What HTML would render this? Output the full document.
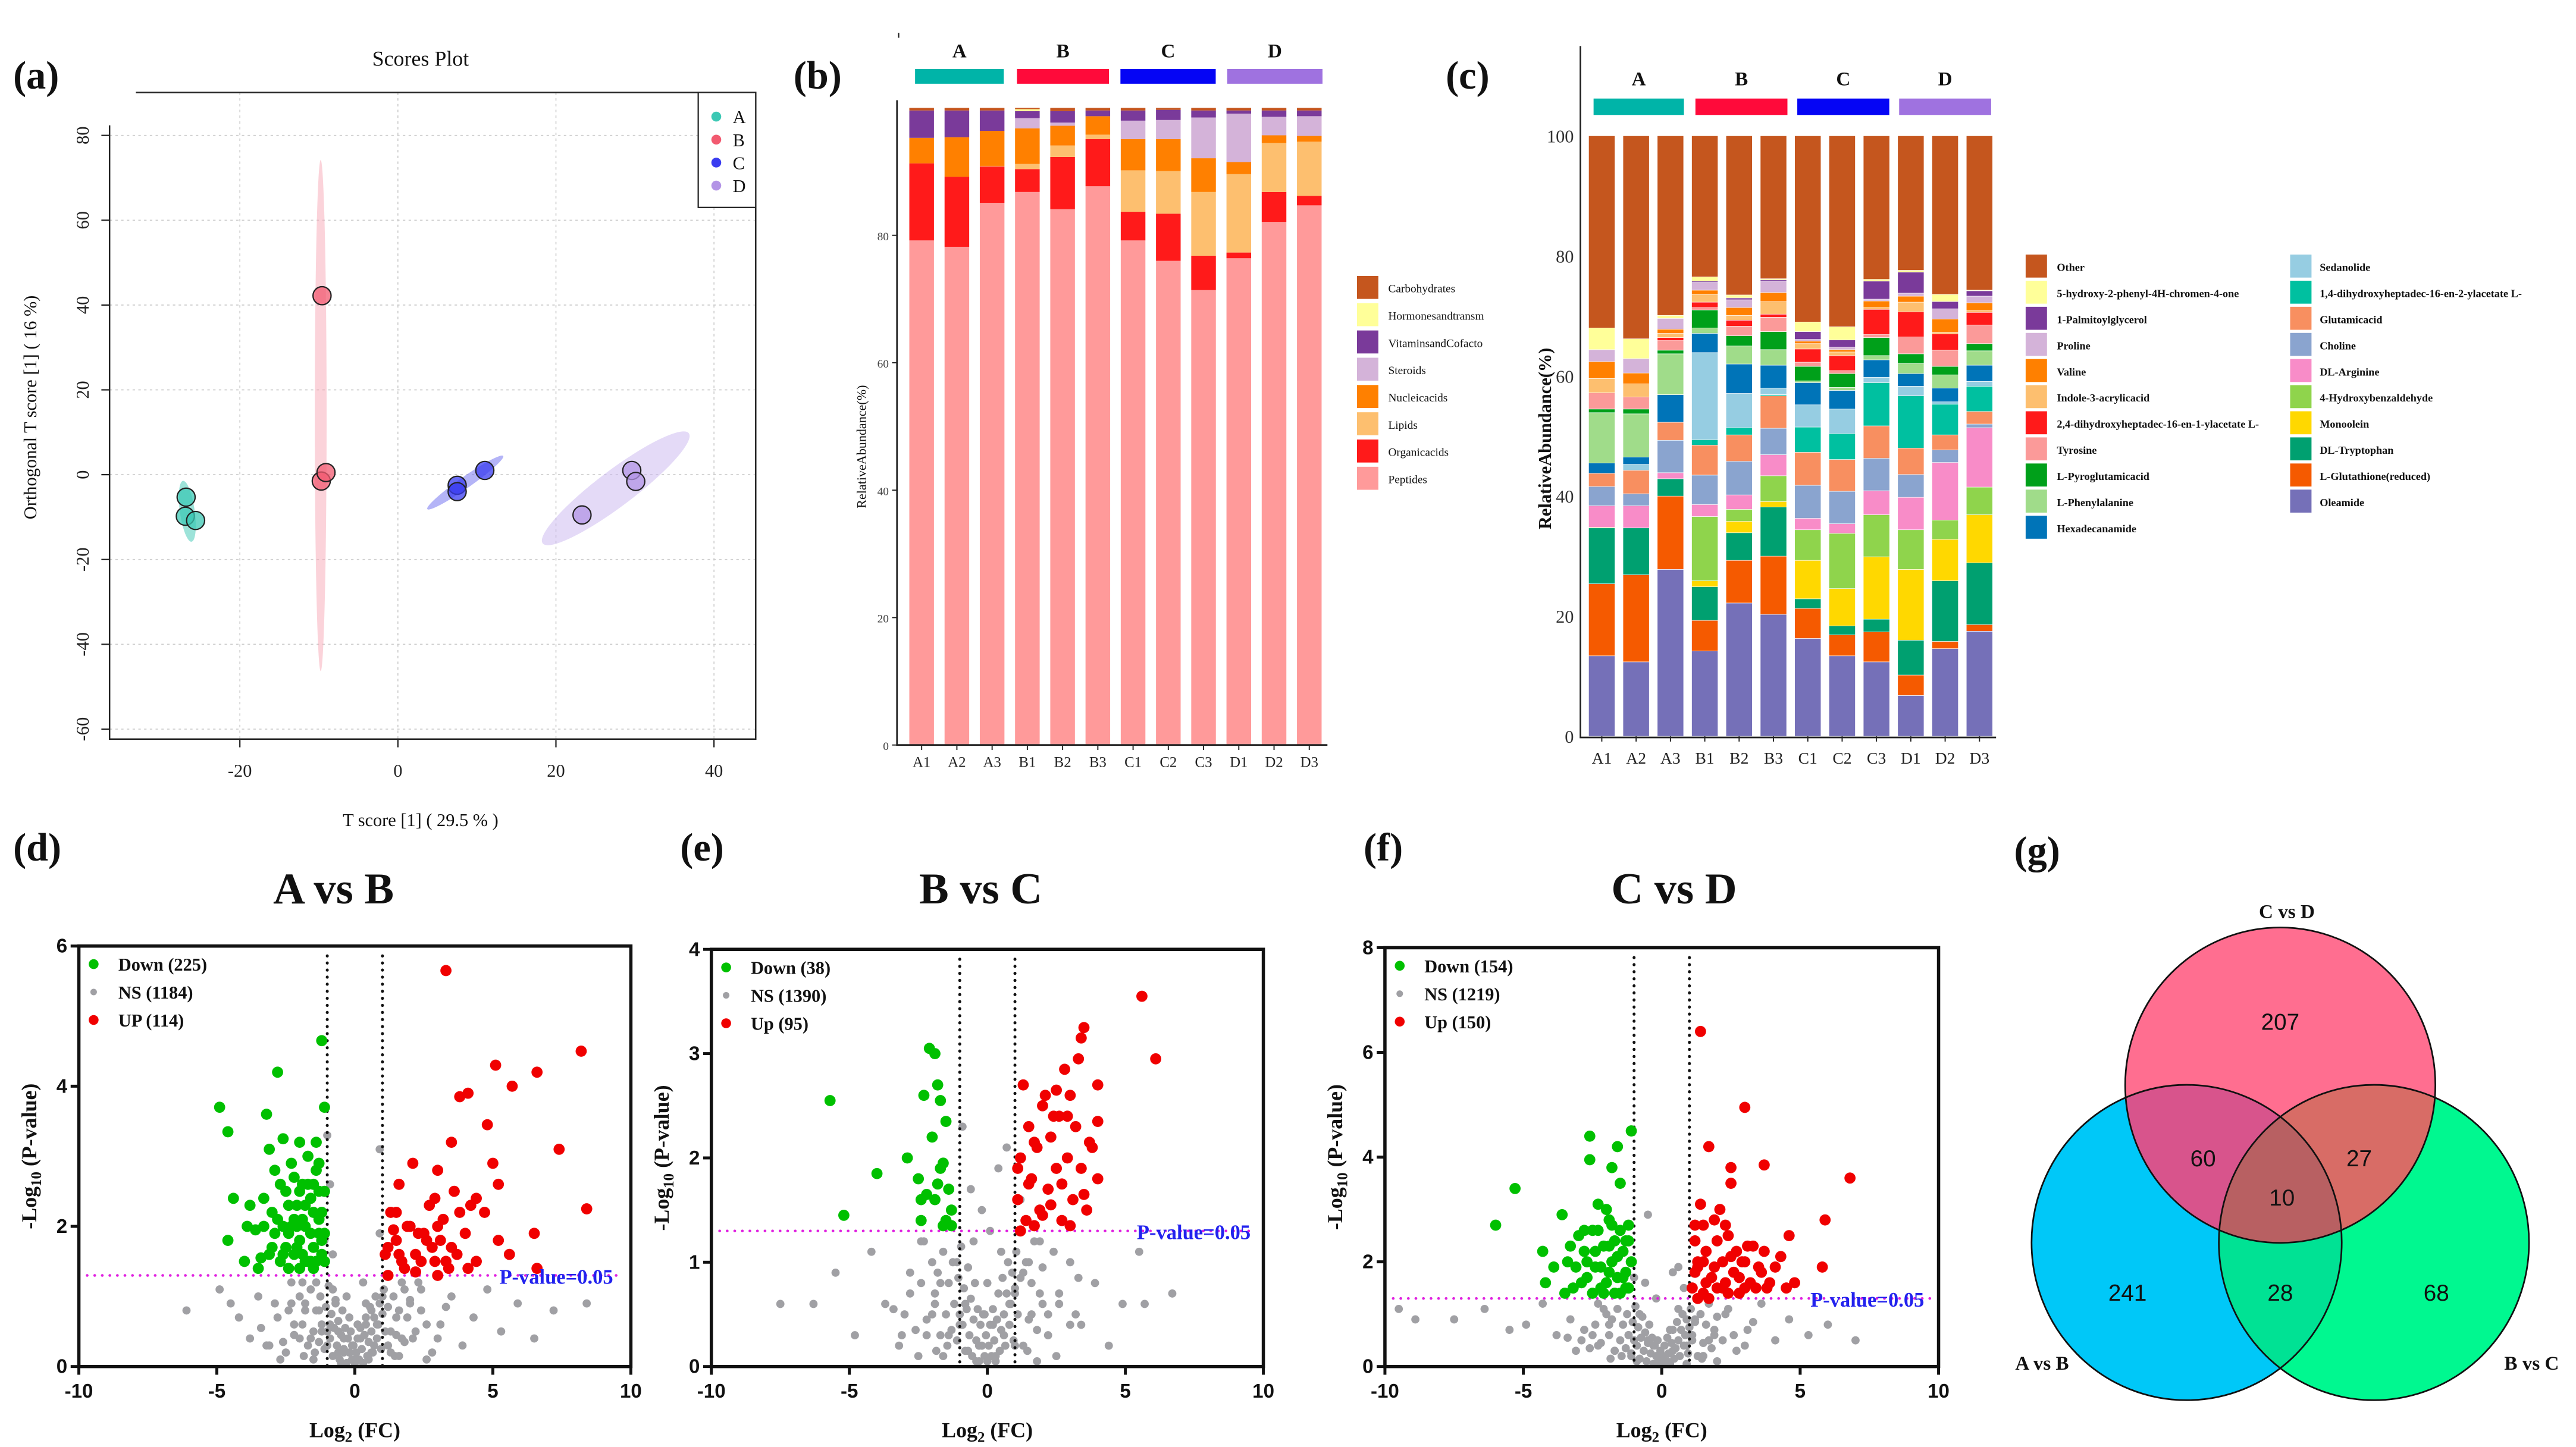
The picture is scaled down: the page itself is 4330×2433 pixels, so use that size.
<!DOCTYPE html>
<html><head><meta charset="utf-8"><style>
html,body{margin:0;padding:0;background:#fff;}
svg{display:block;}
text{font-family:"Liberation Serif",serif;}
.sans{font-family:"Liberation Sans",sans-serif;}
</style></head><body>
<svg id="fig" xmlns="http://www.w3.org/2000/svg" width="4330" height="2433" viewBox="0 0 1568 881" preserveAspectRatio="none">
<rect x="0" y="0" width="1568" height="881" fill="#fff"/>
<g font-weight="bold" font-size="24" fill="#111">
<text x="8" y="54">(a)</text>
<text x="483" y="54">(b)</text>
<text x="880" y="54">(c)</text>
<text x="8" y="524">(d)</text>
<text x="414" y="524">(e)</text>
<text x="830" y="524">(f)</text>
<text x="1226" y="526">(g)</text>
</g>
<g id="pa"></g>
<g id="pb"></g>
<g id="pc"></g>
<g id="pd"></g>
<g id="pe"></g>
<g id="pf"></g>
<g id="pg"></g>
</svg>
<script>
// ---------- Panel a data ----------
const scoreGroups = ["A","B","C","D"];
const scoreColors = ["#3cc8b4","#f25a70","#3a3cf0","#b394e6"];
const scoreX_A = [-26.8,-26.9,-25.6];
const scoreY_A = [-5.3,-9.8,-10.8];
const scoreX_B = [-9.6,-9.7,-9.1];
const scoreY_B = [42.2,-1.5,0.5];
const scoreX_C = [7.5,7.5,11];
const scoreY_C = [-2.5,-4,1];
const scoreX_D = [29.6,30.1,23.3];
const scoreY_D = [1,-1.6,-9.5];
const scoreXTicks = [-20,0,20,40];
const scoreYTicks = [80,60,40,20,0,-20,-40,-60];

// ---------- Panel b data (cumulative tops, %) ----------
const samples = ["A1","A2","A3","B1","B2","B3","C1","C2","C3","D1","D2","D3"];
const classNames = ["Peptides","Organicacids","Lipids","Nucleicacids","Steroids","VitaminsandCofacto","Hormonesandtransm","Carbohydrates"];
const classColors = ["#ff9a9a","#ff1a1a","#fdbf6f","#ff8000","#d4b3d9","#7a3a9a","#ffff99","#c5561e"];
const topPeptides = [79.2,78.2,85.1,86.8,84.1,87.7,79.2,76.0,71.4,76.4,82.1,84.7];
const topOrganic = [91.3,89.2,90.8,90.4,92.3,95.1,83.7,83.4,76.8,77.3,86.8,86.2];
const topLipids = [91.3,89.2,90.9,91.2,94.1,95.8,90.2,90.1,86.8,89.6,94.5,94.7];
const topNucleic = [95.3,95.4,96.4,96.8,97.2,98.7,95.1,95.1,92.1,91.5,95.7,95.6];
const topSteroids = [95.3,95.4,96.4,98.4,97.7,98.7,98.0,98.1,98.5,99.1,98.6,98.7];
const topVitamins = [99.6,99.6,99.6,99.5,99.5,99.6,99.6,99.7,99.6,99.6,99.6,99.6];
const topHormones = [99.6,99.6,99.6,99.8,99.5,99.6,99.6,99.7,99.6,99.6,99.6,99.6];
const topCarbs = [100,100,100,100,100,100,100,100,100,100,100,100];
const bYTicks = [0,20,40,60,80];

// ---------- Panel c data (cumulative tops, %) ----------
const compNames = ["Oleamide","L-Glutathione(reduced)","DL-Tryptophan","Monoolein","4-Hydroxybenzaldehyde","DL-Arginine","Choline","Glutamicacid","1,4-dihydroxyheptadec-16-en-2-ylacetate L-","Sedanolide","Hexadecanamide","L-Phenylalanine","L-Pyroglutamicacid","Tyrosine","2,4-dihydroxyheptadec-16-en-1-ylacetate L-","Indole-3-acrylicacid","Valine","Proline","1-Palmitoylglycerol","5-hydroxy-2-phenyl-4H-chromen-4-one","Other"];
const compColors = ["#7570b8","#f55a00","#00a070","#ffd800","#8fd44c","#f88cc8","#8aa4cf","#f88f60","#00c0a0","#96cde2","#0074b8","#a0dc8a","#00a01a","#fb9a99","#ff1a1a","#fdbf6f","#ff8000","#d4b3d9","#7a3a9a","#ffff99","#c5561e"];
const cOleamide = [13.4,12.4,27.8,14.2,22.2,20.3,16.3,13.4,12.4,6.8,14.6,17.5];
const cGluta = [25.4,26.9,40.0,19.3,29.3,30.0,21.3,16.9,17.4,10.2,15.8,18.6];
const cTryp = [34.7,34.7,42.9,24.9,33.9,38.2,22.9,18.4,19.5,16.0,25.9,28.9];
const cMono = [34.8,34.7,42.9,25.9,35.8,39.1,29.3,24.6,29.9,27.8,32.8,36.9];
const cHydroxy = [34.8,34.7,42.9,36.6,37.8,43.4,34.4,33.8,36.9,34.4,36.0,41.5];
const cArg = [38.4,38.4,43.9,38.6,40.2,46.9,36.3,35.4,40.9,39.8,45.6,51.4];
const cCholine = [41.6,40.4,49.3,43.5,45.8,51.3,41.8,40.8,46.3,43.6,47.7,52.0];
const cGlutamic = [43.8,44.3,52.3,48.5,50.2,56.7,47.3,46.1,51.7,48.0,50.2,54.1];
const cDihyd14 = [43.8,44.3,52.3,49.4,51.4,56.9,51.5,50.4,58.9,56.7,55.3,58.3];
const cSedan = [43.8,45.3,52.3,63.9,57.1,58.0,55.2,54.5,59.8,58.3,55.7,59.1];
const cHexa = [45.5,46.5,56.9,67.1,62.0,61.8,58.9,57.6,62.7,60.4,58.0,61.8];
const cPhenyl = [53.9,53.7,63.7,68.0,65.0,64.4,59.2,58.1,63.4,62.1,60.2,64.2];
const cPyro = [54.5,54.5,64.3,71.0,66.7,67.4,61.6,60.4,66.4,63.7,61.6,65.4];
const cTyr = [57.2,56.5,65.9,71.4,68.3,69.8,62.3,60.9,66.9,66.5,64.3,68.5];
const cDihyd24 = [57.2,56.5,66.4,72.3,69.3,70.3,64.5,63.4,71.1,70.7,67.0,70.6];
const cIndole = [59.6,58.7,67.1,73.6,70.1,72.4,65.4,64.0,71.4,72.3,67.3,70.9];
const cValine = [62.4,60.5,67.8,74.3,71.4,73.9,65.8,64.4,72.5,73.3,69.5,72.2];
const cProline = [64.4,62.9,69.6,75.6,72.7,75.8,66.1,64.8,72.8,73.8,71.2,73.3];
const cPalm = [64.4,62.9,69.6,75.8,73.0,76.0,67.4,66.0,75.8,77.3,72.4,74.2];
const cChromen = [68.0,66.2,70.1,76.5,73.5,76.2,69.0,68.2,76.1,77.6,73.6,74.3];
const cOther = [100,100,100,100,100,100,100,100,100,100,100,100];
const cYTicks = [0,20,40,60,80,100];
const legendOrderCol1 = [20,19,18,17,16,15,14,13,12,11,10];
const legendOrderCol2 = [9,8,7,6,5,4,3,2,1,0];

// ---------- Volcano data [log2FC, -log10 p] ----------
const dDown = [[-4.9,3.7],[-4.6,3.35],[-4.4,2.4],[-4.6,1.8],[-4.0,1.5],[-3.9,2.0],[-3.6,1.95],[-3.5,1.4],[-3.3,2.4],[-3.2,3.6],[-3.1,3.1],[-3,1.7],[-2.9,2.8],[-2.8,2.1],[-2.7,1.5],[-2.6,3.25],[-2.5,2.5],[-2.4,1.9],[-2.3,2.9],[-2.2,1.6],[-2.1,2.3],[-2.0,3.2],[-2.0,1.8],[-1.9,2.6],[-1.8,2.0],[-1.7,1.5],[-1.7,3.0],[-1.6,2.4],[-1.5,1.7],[-1.4,2.8],[-1.3,2.1],[-1.2,1.6],[-1.1,3.7],[-1.1,2.5],[-1.2,4.65],[-2.8,4.2],[-3.4,1.55],[-2.4,1.4],[-1.5,1.4],[-3.3,2.0],[-2.6,2.0],[-1.9,1.6],[-2.2,2.7],[-1.4,3.2],[-1.3,1.9],[-1.8,2.3],[-2.5,1.7],[-1.6,1.9],[-1.2,2.2],[-2.0,1.4],[-3.8,2.3],[-3.0,2.2],[-2.7,2.6],[-2.3,2.0],[-2.1,1.7],[-1.9,2.1],[-1.7,2.6],[-1.5,2.2],[-1.3,2.5],[-1.2,1.8],[-2.4,2.3],[-2.9,1.9],[-3.1,1.6],[-2.0,2.5],[-1.6,1.5],[-1.4,1.5],[-1.1,1.9],[-2.6,1.6],[-1.8,1.5],[-2.2,2.1],[-1.3,2.9],[-1.5,2.6],[-2.1,2.0],[-1.1,1.5]];
const dUp = [[1.1,1.6],[1.3,2.2],[1.5,1.8],[1.6,2.6],[1.8,1.4],[2.0,2.0],[2.2,1.6],[2.1,2.9],[2.5,1.9],[2.7,2.3],[2.9,1.5],[3.0,2.8],[3.2,2.1],[3.3,5.65],[3.5,1.7],[3.6,2.5],[3.8,3.85],[4.0,1.9],[4.2,2.3],[4.4,1.5],[4.8,3.45],[4.7,2.2],[5.1,4.3],[5.2,1.8],[5.2,2.6],[5.7,4.0],[5.6,1.6],[6.6,4.2],[6.5,1.9],[7.4,3.1],[6.6,1.4],[8.2,4.5],[8.4,2.25],[3.5,3.2],[4.1,3.9],[5.0,2.9],[1.2,1.3],[2.2,1.35],[3.4,1.4],[2.8,1.7],[1.4,1.95],[3.0,1.3],[1.5,2.2],[1.7,1.5],[2.4,1.5],[2.6,1.8],[3.1,1.8],[3.3,1.5],[3.7,1.6],[4.1,1.4],[2.9,2.4],[1.9,2.0],[3.8,2.2],[4.4,2.4],[1.2,1.7],[2.3,1.9],[3.0,2.0],[1.6,1.6]];
const dNS = [[-6.1,0.8],[-4.9,1.1],[-4.5,0.9],[-4.2,0.7],[-3.8,0.4],[-3.5,1.0],[-3.2,0.3],[-2.9,0.9],[-2.5,0.2],[-2.2,0.6],[-1.9,1.2],[-1.6,0.4],[-1.3,0.8],[-1.0,0.3],[-0.8,1.1],[-0.6,0.5],[-0.4,0.2],[-0.2,0.7],[0,0.1],[0.2,0.4],[0.4,0.9],[0.6,0.2],[0.8,0.6],[1.0,1.0],[1.2,0.3],[1.5,0.7],[1.8,1.1],[2.1,0.4],[2.4,0.8],[2.8,0.2],[3.1,0.6],[3.5,1.0],[3.9,0.3],[4.3,0.7],[4.8,1.1],[5.3,0.5],[5.9,0.9],[6.5,0.4],[7.2,0.8],[8.4,0.9],[-0.5,0.05],[0.5,0.1],[-0.1,0.3],[0.1,0.6],[-0.3,1.0],[0.3,1.2],[-1.1,1.8],[-0.8,1.6],[0.9,1.9],[1.1,1.6],[-2.7,0.1],[2.6,0.1],[-1.5,0.1],[1.6,0.15],[-0.9,0.6],[0.7,0.3],[-2.0,0.4],[2.0,0.9],[-1.2,0.5],[-0.7,0.9],[1.3,0.5],[-1.8,0.8],[1.7,0.4],[-1.4,1.2],[-2.3,0.9],[2.3,1.2],[-0.9,2.6],[-1.0,3.3],[0.9,3.1],[-0.4,0.4],[0.4,0.6],[-0.6,0.2],[0.6,0.8]];
const dCore = [[-2.0,1.0],[-1.9,0.6],[-1.8,0.9],[-1.7,0.3],[-1.6,1.1],[-1.5,0.5],[-1.4,0.8],[-1.3,0.35],[-1.25,1.0],[-1.2,0.6],[-1.1,0.25],[-1.05,0.85],[-1.0,0.5],[-0.95,1.15],[-0.9,0.4],[-0.85,0.75],[-0.8,0.15],[-0.75,0.55],[-0.7,0.95],[-0.65,0.3],[-0.6,0.65],[-0.55,0.1],[-0.5,0.45],[-0.45,0.8],[-0.4,0.25],[-0.35,0.55],[-0.3,0.05],[-0.25,0.4],[-0.2,0.2],[-0.15,0.5],[-0.1,0.1],[-0.05,0.3],[0,0.05],[0.05,0.2],[0.1,0.4],[0.15,0.1],[0.2,0.55],[0.25,0.25],[0.3,0.05],[0.35,0.45],[0.4,0.7],[0.45,0.15],[0.5,0.35],[0.55,0.85],[0.6,0.5],[0.65,0.2],[0.7,0.7],[0.75,1.0],[0.8,0.4],[0.85,0.6],[0.9,0.9],[0.95,0.25],[1.0,0.75],[1.05,1.1],[1.1,0.5],[1.2,0.85],[1.3,0.2],[1.4,1.0],[1.5,0.45],[1.6,0.8],[1.7,1.2],[1.8,0.35],[1.9,0.7],[2.0,0.95],[2.2,0.5],[2.4,1.1],[-2.2,0.45],[-2.4,0.8],[-2.6,0.35],[-2.8,0.7],[-3.1,0.3],[-3.4,0.55],[-2.3,1.2],[-1.85,0.15],[-1.45,0.2],[1.45,0.15],[2.6,0.6],[3.0,0.4],[3.3,0.85]];
const eDown = [[-5.7,2.55],[-5.2,1.45],[-4.0,1.85],[-2.9,2.0],[-2.5,1.8],[-2.3,2.6],[-2.1,3.05],[-2.2,1.65],[-2.0,2.2],[-1.9,3.0],[-1.9,1.6],[-1.8,2.7],[-1.7,1.9],[-1.7,2.55],[-1.5,1.4],[-1.5,2.35],[-1.4,1.7],[-1.3,1.5],[-1.6,1.95],[-2.4,1.4],[-1.8,1.75],[-1.6,1.35],[-2.4,1.6],[-1.3,1.35]];
const eUp = [[1.1,1.6],[1.2,2.0],[1.3,2.7],[1.4,1.4],[1.5,2.3],[1.6,1.8],[1.7,2.15],[1.8,2.1],[1.9,1.5],[2.0,2.5],[2.1,2.6],[2.2,1.7],[2.3,2.2],[2.4,2.4],[2.5,1.9],[2.6,2.4],[2.7,1.4],[2.8,2.85],[2.9,2.0],[3.0,2.6],[3.1,1.6],[3.2,2.3],[3.3,2.95],[3.4,1.9],[3.5,3.25],[3.6,1.5],[3.7,2.15],[3.8,2.1],[4.0,2.7],[3.5,1.65],[4.0,2.35],[5.6,3.55],[6.1,2.95],[3.4,3.15],[2.5,2.65],[1.2,1.3],[3.0,1.35],[4.0,1.8],[2.0,1.45],[1.5,1.75],[1.1,1.9],[2.3,1.55],[2.7,1.75],[1.7,1.35],[2.9,2.4]];
const eNS = [[-7.5,0.6],[-6.3,0.6],[-5.5,0.9],[-4.8,0.3],[-4.2,1.1],[-3.7,0.6],[-3.2,0.2],[-2.8,0.9],[-2.4,1.2],[-2.0,0.5],[-1.7,0.8],[-1.4,0.3],[-1.1,1.0],[-0.8,0.6],[-0.5,1.2],[-0.3,0.2],[0,0.8],[0.2,0.4],[0.5,1.1],[0.8,0.6],[1.0,0.2],[1.3,0.9],[1.6,0.5],[1.9,1.2],[2.2,0.3],[2.6,0.7],[3.0,1.0],[3.4,0.4],[3.9,0.8],[4.4,0.2],[4.9,0.6],[5.5,1.1],[5.7,0.6],[6.7,0.7],[-0.6,1.7],[-0.2,1.5],[0.4,1.9],[-0.9,2.3],[0.7,2.1],[-0.4,0.05],[0.3,0.1],[-1.3,1.5],[1.2,1.6],[-2.5,0.1],[2.5,0.1],[-1.6,0.1],[1.8,0.05],[0.1,1.3],[-0.1,0.5],[-1.0,0.4],[1.0,0.7],[-0.7,0.15],[0.6,0.3],[-1.9,0.7],[1.5,1.0],[-2.2,0.3],[2.0,0.6],[-3.0,0.5],[3.2,0.5]];
const eCore = [[-2.0,1.0],[-1.9,0.6],[-1.8,0.9],[-1.7,0.3],[-1.6,1.1],[-1.5,0.5],[-1.4,0.8],[-1.3,0.35],[-1.25,1.0],[-1.2,0.6],[-1.1,0.25],[-1.05,0.85],[-1.0,0.5],[-0.95,1.15],[-0.9,0.4],[-0.85,0.75],[-0.8,0.15],[-0.75,0.55],[-0.7,0.95],[-0.65,0.3],[-0.6,0.65],[-0.55,0.1],[-0.5,0.45],[-0.45,0.8],[-0.4,0.25],[-0.35,0.55],[-0.3,0.05],[-0.25,0.4],[-0.2,0.2],[-0.15,0.5],[-0.1,0.1],[-0.05,0.3],[0,0.05],[0.05,0.2],[0.1,0.4],[0.15,0.1],[0.2,0.55],[0.25,0.25],[0.3,0.05],[0.35,0.45],[0.4,0.7],[0.45,0.15],[0.5,0.35],[0.55,0.85],[0.6,0.5],[0.65,0.2],[0.7,0.7],[0.75,1.0],[0.8,0.4],[0.85,0.6],[0.9,0.9],[0.95,0.25],[1.0,0.75],[1.05,1.1],[1.1,0.5],[1.2,0.85],[1.3,0.2],[1.4,1.0],[1.5,0.45],[1.6,0.8],[1.7,1.2],[1.8,0.35],[1.9,0.7],[2.0,0.95],[2.2,0.5],[2.4,1.1],[-2.2,0.45],[-2.4,0.8],[-2.6,0.35],[-2.8,0.7],[-3.1,0.3],[-3.4,0.55],[-2.3,1.2],[-1.85,0.15],[-1.45,0.2],[1.45,0.15],[2.6,0.6],[3.0,0.4],[3.3,0.85]];
const fDown = [[-6.0,2.7],[-5.3,3.4],[-4.3,2.2],[-4.2,1.6],[-3.9,1.9],[-3.6,2.9],[-3.4,2.0],[-3.2,1.5],[-3.0,2.5],[-2.8,2.2],[-2.7,1.7],[-2.6,4.4],[-2.5,2.6],[-2.4,1.9],[-2.3,3.1],[-2.2,1.5],[-2.1,2.3],[-2.0,3.0],[-1.9,1.8],[-1.8,2.7],[-1.7,1.4],[-1.6,2.1],[-1.5,3.5],[-1.4,1.7],[-1.3,2.4],[-1.2,1.5],[-1.1,2.0],[-2.6,3.95],[-3.5,1.4],[-1.6,4.2],[-1.1,4.5],[-1.8,3.8],[-2.2,1.9],[-1.5,2.6],[-2.9,1.6],[-1.3,1.8],[-2.5,1.4],[-1.9,2.3],[-3.1,1.9],[-1.2,2.7],[-2.4,2.2],[-2.0,1.6],[-1.8,2.0],[-1.6,1.7],[-1.4,2.2],[-1.3,1.5],[-2.7,2.0],[-2.3,2.6],[-1.9,2.8],[-1.5,1.4],[-2.1,1.4],[-1.2,2.4],[-3.3,2.3],[-2.8,2.6],[-1.7,2.4]];
const fUp = [[1.1,1.5],[1.2,2.4],[1.3,1.9],[1.4,3.1],[1.5,1.4],[1.6,2.2],[1.4,6.4],[1.8,1.7],[1.9,2.8],[2.0,1.5],[2.1,3.0],[2.2,2.0],[2.3,1.6],[2.4,2.5],[2.5,3.5],[2.6,1.8],[2.7,2.2],[2.8,1.4],[2.9,2.0],[3.0,2.0],[3.2,1.6],[3.3,2.3],[3.5,1.9],[3.7,2.2],[3.8,1.5],[4.1,1.9],[4.3,2.1],[4.6,2.5],[4.8,1.6],[4.5,1.5],[6.8,3.6],[5.8,1.9],[5.9,2.8],[2.5,3.8],[1.7,4.2],[3.0,4.95],[3.7,3.85],[1.3,1.3],[1.7,1.3],[2.3,2.7],[1.5,2.7],[1.2,1.8],[1.3,2.0],[1.6,1.6],[1.9,1.9],[2.2,1.5],[2.5,2.1],[2.8,1.7],[3.1,2.3],[3.4,1.5],[3.6,1.8],[1.2,2.7],[2.0,2.4],[2.4,1.4],[3.0,1.5],[1.5,2.0],[3.9,1.6]];
const fNS = [[-9.5,1.1],[-8.9,0.9],[-7.5,0.9],[-6.4,1.1],[-5.5,0.7],[-4.9,0.8],[-4.3,1.2],[-3.8,0.6],[-3.3,0.9],[-2.9,0.5],[-2.5,0.6],[-2.1,1.1],[-1.7,0.3],[-1.4,0.8],[-1.1,0.2],[-0.8,1.0],[-0.5,0.5],[-0.2,1.3],[0,0.2],[0.3,0.7],[0.6,1.1],[0.9,0.4],[1.2,0.9],[1.5,0.2],[1.9,0.6],[2.3,1.0],[2.7,0.3],[3.1,0.7],[3.6,1.2],[4.1,0.5],[4.6,0.9],[5.3,0.6],[6.0,0.8],[7.0,0.5],[-0.6,1.6],[0.4,1.8],[-0.3,0.05],[0.2,0.1],[-1.9,0.8],[2.0,0.1],[0.8,1.5],[-1.0,1.7],[-0.5,2.9],[0.6,1.9],[-1.2,0.6],[1.1,0.6],[-0.3,0.4],[0.4,0.3],[-2.3,0.4],[1.7,0.5],[-0.9,0.1],[0.9,0.05]];
const fCore = [[-2.0,1.0],[-1.9,0.6],[-1.8,0.9],[-1.7,0.3],[-1.6,1.1],[-1.5,0.5],[-1.4,0.8],[-1.3,0.35],[-1.25,1.0],[-1.2,0.6],[-1.1,0.25],[-1.05,0.85],[-1.0,0.5],[-0.95,1.15],[-0.9,0.4],[-0.85,0.75],[-0.8,0.15],[-0.75,0.55],[-0.7,0.95],[-0.65,0.3],[-0.6,0.65],[-0.55,0.1],[-0.5,0.45],[-0.45,0.8],[-0.4,0.25],[-0.35,0.55],[-0.3,0.05],[-0.25,0.4],[-0.2,0.2],[-0.15,0.5],[-0.1,0.1],[-0.05,0.3],[0,0.05],[0.05,0.2],[0.1,0.4],[0.15,0.1],[0.2,0.55],[0.25,0.25],[0.3,0.05],[0.35,0.45],[0.4,0.7],[0.45,0.15],[0.5,0.35],[0.55,0.85],[0.6,0.5],[0.65,0.2],[0.7,0.7],[0.75,1.0],[0.8,0.4],[0.85,0.6],[0.9,0.9],[0.95,0.25],[1.0,0.75],[1.05,1.1],[1.1,0.5],[1.2,0.85],[1.3,0.2],[1.4,1.0],[1.5,0.45],[1.6,0.8],[1.7,1.2],[1.8,0.35],[1.9,0.7],[2.0,0.95],[2.2,0.5],[2.4,1.1],[-2.2,0.45],[-2.4,0.8],[-2.6,0.35],[-2.8,0.7],[-3.1,0.3],[-3.4,0.55],[-2.3,1.2],[-1.85,0.15],[-1.45,0.2],[1.45,0.15],[2.6,0.6],[3.0,0.4],[3.3,0.85]];
const volcanoLegendD = ["Down (225)","NS (1184)","UP (114)"];
const volcanoLegendE = ["Down (38)","NS (1390)","Up (95)"];
const volcanoLegendF = ["Down (154)","NS (1219)","Up (150)"];
const xTicksVolcano = [-10,-5,0,5,10];

// ---------- Venn data ----------
const vennSetNames = ["A vs B","B vs C","C vs D"];
const vennOnlyAB = 241, vennOnlyBC = 68, vennOnlyCD = 207;
const vennABCD = 60, vennBCCD = 27, vennABBC = 28, vennAll = 10;

const NS = "http://www.w3.org/2000/svg";
function mk(parent, tag, attrs, txt){
  const e = document.createElementNS(NS, tag);
  for (const k in attrs) e.setAttribute(k, attrs[k]);
  if (txt !== undefined) e.textContent = txt;
  parent.appendChild(e);
  return e;
}
let el;

// ================= Panel a =================
(function(){
  const g = document.getElementById('pa');
  const xS = v => 242.2 + v*4.81;
  const yS = v => 289 - v*2.582;
  const L=66.7, R=460, T=56.3, B=450;
  el = mk(g,'text',{x:256,y:40,'font-size':13,'text-anchor':'middle',fill:'#111'},'Scores Plot');
  
  
  scoreXTicks.forEach(t=>{
    el = mk(g,'line',{x1:xS(t),x2:xS(t),y1:T,y2:B,stroke:'#ccc','stroke-width':0.6,'stroke-dasharray':'1.5,2'});
    
    
    el = mk(g,'line',{x1:xS(t),x2:xS(t),y1:B,y2:B+5,stroke:'#222','stroke-width':0.8});
    
    
    el = mk(g,'text',{x:xS(t),y:B+23,'font-size':11,'text-anchor':'middle',fill:'#222'},String(t));
    
    
  });
  scoreYTicks.forEach(t=>{
    el = mk(g,'line',{x1:L,x2:R,y1:yS(t),y2:yS(t),stroke:'#ccc','stroke-width':0.6,'stroke-dasharray':'1.5,2'});
    
    
    el = mk(g,'line',{x1:L-5,x2:L,y1:yS(t),y2:yS(t),stroke:'#222','stroke-width':0.8});
    
    
    el = mk(g,'text',{x:0,y:0,'font-size':11,'text-anchor':'middle',fill:'#222',transform:`translate(54,${yS(t)}) rotate(-90)`},String(t));
    
    
  });
  el = mk(g,'path',{d:`M${L},${T+20} L${L},${B} L${R},${B} L${R},${T} L${L+16},${T}`,fill:'none',stroke:'#222','stroke-width':0.9});
  
  
  const ells = [[114,311.3,4.5,18.7,-8,'#3cc8b4'],[195.2,253,3.6,155.6,0,'#f7a7b5'],[283.2,293.8,28.2,3.5,-35,'#6a6af0'],[374.8,297.3,55.7,11,-37,'#c9b6f0']];
  const ellNames=['ellipse-a','ellipse-b','ellipse-c','ellipse-d'];
  ells.forEach((e,i)=>{
    el = mk(g,'ellipse',{cx:e[0],cy:e[1],rx:e[2],ry:e[3],fill:e[5],'fill-opacity':0.5,transform:`rotate(${e[4]} ${e[0]} ${e[1]})`});
    
    
  });
  const xs=[scoreX_A,scoreX_B,scoreX_C,scoreX_D], ys=[scoreY_A,scoreY_B,scoreY_C,scoreY_D];
  xs.forEach((arr,gi)=>{
    arr.forEach((v,j)=>{
      el = mk(g,'circle',{cx:xS(v),cy:yS(ys[gi][j]),r:5.5,fill:scoreColors[gi],'fill-opacity':0.75,stroke:'#222','stroke-width':0.8});
      
      
    });
  });
  el = mk(g,'rect',{x:425,y:56.3,width:35,height:70,fill:'#fff',stroke:'#222','stroke-width':0.8});
  
  
  scoreGroups.forEach((n,i)=>{
    const y=71+i*14;
    el = mk(g,'circle',{cx:436,cy:y,r:3,fill:scoreColors[i]});
    
    
    el = mk(g,'text',{x:446,y:y+4,'font-size':11,fill:'#111'},n);
    
    
  });
  el = mk(g,'text',{x:256,y:503,'font-size':11,'text-anchor':'middle',fill:'#111'},'T score [1] ( 29.5 % )');
  
  
  el = mk(g,'text',{x:0,y:0,'font-size':11,'text-anchor':'middle',fill:'#111',transform:'translate(22,248) rotate(-90)'},'Orthogonal T score [1] ( 16 %)');
  
  
})();

function headers(g, rects, ty){
  const cols=['#00b4a8','#ff0a3a','#0505f5','#9f72e0'], names=['A','B','C','D'];
  rects.forEach((r,i)=>{
    el = mk(g,'rect',{x:r[0],y:r[1],width:r[2],height:r[3],fill:cols[i]});
    
    
    el = mk(g,'text',{x:r[0]+r[2]/2,y:ty,'font-size':12,'font-weight':'bold','text-anchor':'middle',fill:'#111'},names[i]);
    
    
  });
}

// ================= Panel b =================
(function(){
  const g=document.getElementById('pb');
  const yS=v=>453.6 - v*3.879;
  const xS=i=>561+i*21.45;
  const series=[topPeptides,topOrganic,topLipids,topNucleic,topSteroids,topVitamins,topHormones,topCarbs];
  headers(g,[[557,42,54,9],[619,42,56,9],[682,42,58,9],[747,42,58,9]],35);
  el = mk(g,'line',{x1:547,x2:547,y1:20,y2:23,stroke:'#222','stroke-width':0.8});
  
  
  samples.forEach((s,i)=>{
    let prev=0;
    series.forEach((arr,k)=>{
      const top=arr[i];
      if(top-prev>0.01){
        el = mk(g,'rect',{x:xS(i)-7.5,y:yS(top),width:15,height:yS(prev)-yS(top),fill:classColors[k]});
        
        
      }
      prev=top;
    });
    el = mk(g,'line',{x1:xS(i),x2:xS(i),y1:453.6,y2:456.6,stroke:'#222','stroke-width':0.7});
    
    
    el = mk(g,'text',{x:xS(i),y:467,'font-size':9,'text-anchor':'middle',fill:'#222'},s);
    
    
  });
  el = mk(g,'path',{d:'M546,61 L546,453.6 L808,453.6',fill:'none',stroke:'#222','stroke-width':1});
  
  
  bYTicks.forEach(t=>{
    el = mk(g,'text',{x:541,y:yS(t)+3,'font-size':7,'text-anchor':'end',fill:'#444'},String(t));
    
    
    el = mk(g,'line',{x1:543,x2:546,y1:yS(t),y2:yS(t),stroke:'#222','stroke-width':0.7});
    
    
  });
  el = mk(g,'text',{x:0,y:0,'font-size':8,'text-anchor':'middle',fill:'#111',transform:'translate(527,272) rotate(-90)'},'RelativeAbundance(%)');
  
  
  const order=[7,6,5,4,3,2,1,0];
  order.forEach((k,j)=>{
    const y=168+j*16.6;
    el = mk(g,'rect',{x:826,y:y,width:13,height:14,fill:classColors[k]});
    
    
    el = mk(g,'text',{x:845,y:y+10,'font-size':7,fill:'#111'},classNames[k]);
    
    
  });
})();

// ================= Panel c =================
(function(){
  const g=document.getElementById('pc');
  const yS=v=>448.3 - v*3.656;
  const xS=i=>975+i*20.9;
  const series=[cOleamide,cGluta,cTryp,cMono,cHydroxy,cArg,cCholine,cGlutamic,cDihyd14,cSedan,cHexa,cPhenyl,cPyro,cTyr,cDihyd24,cIndole,cValine,cProline,cPalm,cChromen,cOther];
  headers(g,[[970,60,55,10],[1032,60,56,10],[1094,60,56,10],[1156,60,56,10]],52);
  samples.forEach((s,i)=>{
    let prev=0;
    series.forEach((arr,k)=>{
      const top=arr[i];
      if(top-prev>0.01){
        el = mk(g,'rect',{x:xS(i)-8,y:yS(top),width:16,height:yS(prev)-yS(top),fill:compColors[k],stroke:'#fff','stroke-width':0.25});
        
        
      }
      prev=top;
    });
    el = mk(g,'line',{x1:xS(i),x2:xS(i),y1:448.3,y2:451.5,stroke:'#222','stroke-width':0.7});
    
    
    el = mk(g,'text',{x:xS(i),y:465,'font-size':10,'text-anchor':'middle',fill:'#222'},s);
    
    
  });
  el = mk(g,'path',{d:'M962,28 L962,449 L1215,449',fill:'none',stroke:'#222','stroke-width':1});
  
  
  cYTicks.forEach(t=>{
    el = mk(g,'text',{x:958,y:yS(t)+4,'font-size':11,'text-anchor':'end',fill:'#333'},String(t));
    
    
  });
  el = mk(g,'text',{x:0,y:0,'font-size':11,'font-weight':'bold','text-anchor':'middle',fill:'#111',transform:'translate(944,267) rotate(-90)'},'RelativeAbundance(%)');
  
  
  legendOrderCol1.forEach((k,j)=>{
    const y=155+j*15.9;
    el = mk(g,'rect',{x:1233,y:y,width:13,height:14,fill:compColors[k]});
    
    
    el = mk(g,'text',{x:1252,y:y+10,'font-size':6.6,'font-weight':'bold',fill:'#111'},compNames[k]);
    
    
  });
  legendOrderCol2.forEach((k,j)=>{
    const y=155+j*15.9;
    el = mk(g,'rect',{x:1394,y:y,width:13,height:14,fill:compColors[k]});
    
    
    el = mk(g,'text',{x:1412,y:y+10,'font-size':6.6,'font-weight':'bold',fill:'#111'},compNames[k]);
    
    
  });
})();

// ================= Volcano panels =================
function volcano(id, box, yMax, yTicks, down, ns, core, up, legend, title, titleX, pLabelX){
  const g=document.getElementById(id);
  const [L,T,R,B]=box;
  const xS=v=>L+(v+10)*(R-L)/20;
  const yS=v=>B-v*(B-T)/yMax;
  el = mk(g,'text',{x:titleX,y:550,'font-size':27,'font-weight':'bold','text-anchor':'middle',fill:'#111'},title);
  
  
  ns.concat(core).forEach(p=>{
    el = mk(g,'circle',{cx:xS(p[0]),cy:yS(p[1]),r:2.5,fill:'#a0a0a4'});
    
    
  });
  [-1,1].forEach(v=>{
    el = mk(g,'line',{x1:xS(v),x2:xS(v),y1:T+6,y2:B,stroke:'#111','stroke-width':1.8,'stroke-dasharray':'0.1,4.2','stroke-linecap':'round'});
    
    
  });
  el = mk(g,'line',{x1:L+5,x2:R-5,y1:yS(1.3),y2:yS(1.3),stroke:'#e020e0','stroke-width':1.6,'stroke-dasharray':'0.1,4.5','stroke-linecap':'round'});
  
  
  down.forEach(p=>{
    el = mk(g,'circle',{cx:xS(p[0]),cy:yS(p[1]),r:3.4,fill:'#00c000'});
    
    
  });
  up.forEach(p=>{
    el = mk(g,'circle',{cx:xS(p[0]),cy:yS(p[1]),r:3.4,fill:'#f00000'});
    
    
  });
  el = mk(g,'text',{x:pLabelX,y:yS(1.3)+5,'font-size':12.5,'font-weight':'bold',fill:'#2222ee'},'P-value=0.05');
  
  
  el = mk(g,'rect',{x:L,y:T,width:R-L,height:B-T,fill:'none',stroke:'#111','stroke-width':2});
  
  
  xTicksVolcano.forEach(t=>{
    el = mk(g,'line',{x1:xS(t),x2:xS(t),y1:B,y2:B+5,stroke:'#111','stroke-width':1.8});
    
    
    el = mk(g,'text',{x:xS(t),y:B+19,'font-size':12,'font-weight':'bold','text-anchor':'middle',fill:'#111','class':'sans'},String(t));
    
    
  });
  yTicks.forEach(t=>{
    el = mk(g,'line',{x1:L-5,x2:L,y1:yS(t),y2:yS(t),stroke:'#111','stroke-width':1.8});
    
    
    el = mk(g,'text',{x:L-7,y:yS(t)+4,'font-size':12,'font-weight':'bold','text-anchor':'end',fill:'#111','class':'sans'},String(t));
    
    
  });
  const cols=['#00c000','#a0a0a4','#f00000'];
  legend.forEach((s,i)=>{
    const y=T+11+i*17;
    el = mk(g,'circle',{cx:L+9,cy:y,r:i==1?2:3,fill:cols[i]});
    
    
    el = mk(g,'text',{x:L+24,y:y+4,'font-size':11,'font-weight':'bold',fill:'#111'},s);
    
    
  });
  const cx=(L+R)/2;
  el = mk(g,'text',{x:cx,y:875,'font-size':13,'font-weight':'bold','text-anchor':'middle',fill:'#111'});
  
  
  el.innerHTML='Log<tspan font-size="9" dy="3">2</tspan><tspan dy="-3"> (FC)</tspan>';
  el = mk(g,'text',{x:0,y:0,'font-size':13,'font-weight':'bold','text-anchor':'middle',fill:'#111',transform:`translate(${L-26},${(T+B)/2}) rotate(-90)`});
  
  
  el.innerHTML='-Log<tspan font-size="9" dy="3">10</tspan><tspan dy="-3"> (P-value)</tspan>';
}
volcano('pd',[48,576,384,832],6,[0,2,4,6],dDown,dNS,dCore,dUp,volcanoLegendD,'A vs B',203,304);
volcano('pe',[433,578,769,832],4,[0,1,2,3,4],eDown,eNS,eCore,eUp,volcanoLegendE,'B vs C',597,692);
volcano('pf',[843,577,1180,832],8,[0,2,4,6,8],fDown,fNS,fCore,fUp,volcanoLegendF,'C vs D',1019,1102);

// ================= Venn =================
(function(){
  const g=document.getElementById('pg');
  const cA=[1331,756.5], cB=[1445,756.5], cC=[1388,660.7], rx=94.4, ry=96;
  const defs=mk(g,'defs',{});
  const cpC=mk(defs,'clipPath',{id:'clipC'}); mk(cpC,'ellipse',{cx:cC[0],cy:cC[1],rx:rx,ry:ry});
  const cpB=mk(defs,'clipPath',{id:'clipB'}); mk(cpB,'ellipse',{cx:cB[0],cy:cB[1],rx:rx,ry:ry});
  el = mk(g,'ellipse',{cx:cA[0],cy:cA[1],rx:rx,ry:ry,fill:'#00c8f8'});
  
  
  el = mk(g,'ellipse',{cx:cB[0],cy:cB[1],rx:rx,ry:ry,fill:'#00f890'});
  
  
  el = mk(g,'ellipse',{cx:cC[0],cy:cC[1],rx:rx,ry:ry,fill:'#ff6e90'});
  
  
  const gAB=mk(g,'g',{'clip-path':'url(#clipB)'});
  el = mk(gAB,'ellipse',{cx:cA[0],cy:cA[1],rx:rx,ry:ry,fill:'#00e294'});
  
  
  const gC=mk(g,'g',{'clip-path':'url(#clipC)'});
  el = mk(gC,'ellipse',{cx:cA[0],cy:cA[1],rx:rx,ry:ry,fill:'#d8548c'});
  
  
  el = mk(gC,'ellipse',{cx:cB[0],cy:cB[1],rx:rx,ry:ry,fill:'#d86c66'});
  
  
  const gC2=mk(gC,'g',{'clip-path':'url(#clipB)'});
  el = mk(gC2,'ellipse',{cx:cA[0],cy:cA[1],rx:rx,ry:ry,fill:'#b86062'});
  
  
  [cA,cB,cC].forEach(c=>{
    el = mk(g,'ellipse',{cx:c[0],cy:c[1],rx:rx,ry:ry,fill:'none',stroke:'#111','stroke-width':1});
    
    
  });
  const nums=[[vennOnlyCD,1388,622],[vennABCD,1341,705],[vennBCCD,1436,705],[vennAll,1389,729],[vennOnlyAB,1295,787],[vennABBC,1388,787],[vennOnlyBC,1483,787]];
  nums.forEach(n=>{
    el = mk(g,'text',{x:n[1],y:n[2]+5,'font-size':14,'text-anchor':'middle',fill:'#111','class':'sans'},String(n[0]));
    
    
  });
  const labs=[[vennSetNames[2],1392,559],[vennSetNames[0],1243,834],[vennSetNames[1],1541,834]];
  labs.forEach(l=>{
    el = mk(g,'text',{x:l[1],y:l[2],'font-size':12,'font-weight':'bold','text-anchor':'middle',fill:'#111'},l[0]);
    
    
  });
})();
</script>
</body></html>
